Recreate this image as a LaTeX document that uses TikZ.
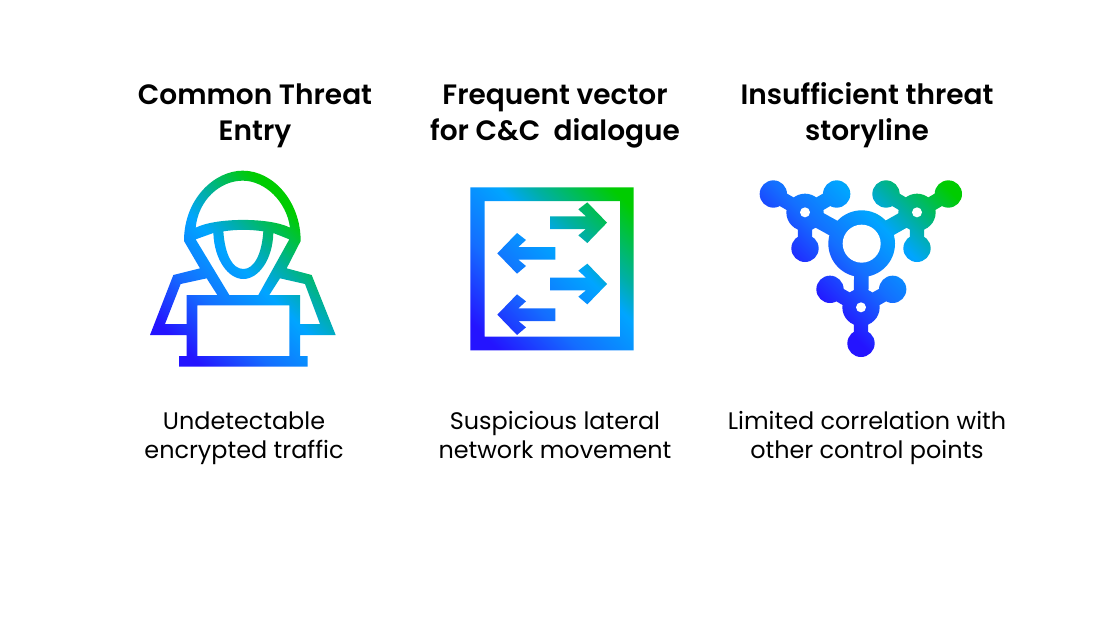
\documentclass[tikz,border=0pt]{standalone}
\usepackage{fontspec}
\usetikzlibrary{calc}
\setmainfont{Poppins}
\newfontfamily\titlefont{Poppins SemiBold}
\definecolor{gdeep}{RGB}{36,20,255}
\definecolor{gblue}{RGB}{20,110,255}
\definecolor{gcyan}{RGB}{0,165,255}
\definecolor{gteal}{RGB}{0,175,165}
\definecolor{ggreen}{RGB}{0,204,0}
\newcommand{\gradshade}[6]{\pgfdeclareverticalshading{#1}{100bp}{%
  color(0bp)=(gdeep); color(#2bp)=(gdeep); color(#3bp)=(gblue); color(#4bp)=(gcyan); color(#5bp)=(gteal); color(#6bp)=(ggreen); color(100bp)=(ggreen)}}
\gradshade{gradA}{28.1}{39.4}{50.7}{57.1}{67.7}
\gradshade{gradB}{25.3}{40.8}{55.7}{62.4}{76.9}
\gradshade{gradC}{37.7}{49.4}{60.2}{66.1}{76.8}
\newcommand{\vstrut}{\vphantom{Ájg}}
% one shaded part of icon C, in the icon's zoom-scaled coordinates
\newcommand{\partC}[1]{\begin{scope}\clip #1;\shade[shading=gradC,shading angle=-45] (0,-40) rectangle (660,620);\end{scope}}
\newcommand{\linkC}[5]{\partC{($(#1,#2)!#5pt!90:(#3,#4)$) -- ($(#1,#2)!#5pt!-90:(#3,#4)$) -- ($(#3,#4)!#5pt!90:(#1,#2)$) -- ($(#3,#4)!#5pt!-90:(#1,#2)$) -- cycle}}
\tikzset{
  titletext/.style={align=center,text=black,inner sep=0pt,font=\titlefont\fontsize{28}{36}\selectfont},
  bodytext/.style={align=center,text=black,inner sep=0pt,font=\fontsize{23.9}{29}\selectfont},
  zoomA/.style={shift={(130,160)},x=0.33333pt,y=-0.33333pt},
  zoomB/.style={shift={(455,175)},x=0.33333pt,y=-0.33333pt},
  zoomC/.style={shift={(750,170)},x=0.33333pt,y=-0.33333pt}
}
\begin{document}
\begin{tikzpicture}[x=1pt,y=-1pt]
  \path[use as bounding box,fill=white] (0,0) rectangle (1100,619);
  % hooded figure
  \begin{scope}[zoomA,even odd rule]
    \clip
      (162,243) .. controls (162,115) and (255,32) .. (338,32) .. controls (430,32) and (512,125) .. (512,243)
        -- (470,325) -- (545,345) -- (617,525) -- (510,525) -- (510,588) -- (533,588) -- (533,620)
        -- (147,620) -- (147,588) -- (170,588) -- (170,525) -- (60,525) -- (130,345) -- (210,325) -- cycle
      (197,203) .. controls (205,120) and (270,62) .. (338,62) .. controls (405,62) and (470,125) .. (480,203) .. controls (420,172) and (260,172) .. (197,203) -- cycle
      (280,214) .. controls (320,208) and (360,208) .. (400,214) .. controls (395,285) and (372,327) .. (340,327) .. controls (308,327) and (285,285) .. (280,214) -- cycle
      (197,238) -- (250,219) .. controls (253,300) and (295,357) .. (340,357) .. controls (385,357) and (428,300) .. (430,219) -- (478,238) -- (385,405) -- (298,405) -- cycle
      (230,355) -- (152,372) -- (105,492) -- (170,492) -- (170,405) -- (262,405) -- cycle
      (450,355) -- (525,372) -- (570,492) -- (510,492) -- (510,405) -- (418,405) -- cycle
      (202,436) rectangle (478,588);
    \shade[shading=gradA,shading angle=-45] (0,0) rectangle (660,660);
  \end{scope}
  % framed arrows
  \begin{scope}[zoomB,even odd rule]
    \clip
      (46,37) rectangle (536,526) (89,78) rectangle (495,485)
      (285,124) -- (393,124) -- (370,103) -- (397,82) -- (456,143) -- (397,204) -- (370,181) -- (393,162) -- (285,162) -- cycle
      (285,308) -- (393,308) -- (370,287) -- (397,266) -- (456,327) -- (397,388) -- (370,365) -- (393,346) -- (285,346) -- cycle
      (301,216) -- (190,216) -- (213,195) -- (186,174) -- (127,235) -- (186,296) -- (213,273) -- (190,254) -- (301,254) -- cycle
      (301,400) -- (190,400) -- (213,379) -- (186,358) -- (127,419) -- (186,480) -- (213,457) -- (190,438) -- (301,438) -- cycle;
    \shade[shading=gradB,shading angle=-45] (0,0) rectangle (570,570);
  \end{scope}
  % linked hubs
  \begin{scope}[zoomC]
    \foreach \hx/\hy/\ax/\ay/\bx/\by/\cx/\cy in {165/127/70/72/260/72/165/235, 501/127/408/72/595/72/501/235, 333/412/240/358/428/358/333/520}{
      \partC{(\hx,\hy) circle (56)}
      \foreach \sx/\sy in {\ax/\ay,\bx/\by,\cx/\cy}{
        \partC{(\sx,\sy) circle (41)}
        \linkC{\hx}{\hy}{\sx}{\sy}{7.2}
      }
    }
    \partC{(335,221) circle (100)}
    \linkC{165}{127}{335}{221}{8.3}
    \linkC{501}{127}{335}{221}{8.3}
    \linkC{333}{412}{335}{221}{7.3}
    \foreach \hx/\hy/\hr in {165/127/15,501/127/15,333/412/15,335/221/57}
      \fill[white] (\hx,\hy) circle (\hr);
  \end{scope}
  \node[titletext] (t1) at (255,113) {\vstrut Common Threat\\Entry\vstrut};
  \node[titletext] (t2) at (555,113) {\vstrut Frequent vector\\for C\&C\ \ dialogue\vstrut};
  \node[titletext] (t3) at (867,113) {\vstrut Insufficient threat\\storyline\vstrut};
  \node[bodytext] (b1) at (244,436) {\vstrut Undetectable\\encrypted traffic\vstrut};
  \node[bodytext] (b2) at (555,436) {\vstrut Suspicious lateral\\network movement\vstrut};
  \node[bodytext] (b3) at (867,436) {\vstrut Limited correlation with\\other control points\vstrut};
\end{tikzpicture}
\end{document}
